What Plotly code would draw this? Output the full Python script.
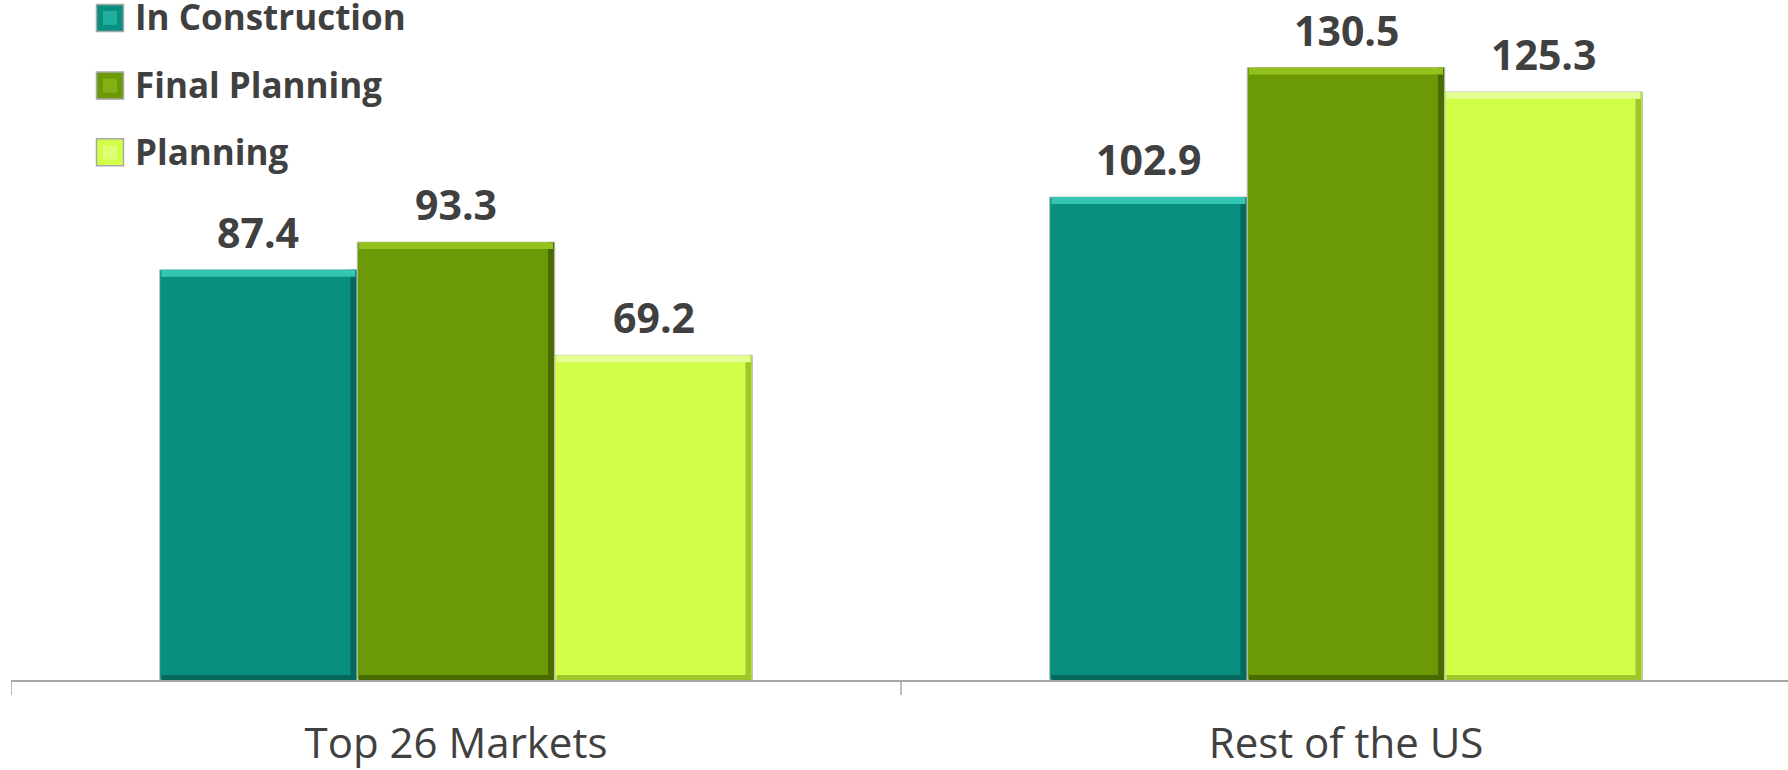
import plotly.graph_objects as go

# ---- data ----
categories = ["Top 26 Markets", "Rest of the US"]
series_names = ["In Construction", "Final Planning", "Planning"]
in_construction = [87.4, 102.9]
final_planning = [93.3, 130.5]
planning = [69.2, 125.3]
series_values = [in_construction, final_planning, planning]

# ---- styling ----
main_colors = ["#088F7F", "#6C9A06", "#D1FF47"]
light_colors = ["#33C6B2", "#93C21F", "#E6FF92"]
dark_colors = ["#05685C", "#4A6A04", "#9FC72C"]

W, H = 1788, 770
M_L, M_R, M_T, M_B = 11, 0, 0, 87
plot_w = W - M_L - M_R
plot_h = H - M_T - M_B
cat_px = 890                     # width of one category slot in pixels
y_max = 144.9
px_per_unit = plot_h / y_max

bar_w = 0.222
start = -0.333
top_band = 7 / px_per_unit
bottom_band = 5 / px_per_unit
side_strip = 6 / cat_px

x_idx = list(range(len(categories)))

fig = go.Figure()

for i, (name, vals) in enumerate(zip(series_names, series_values)):
    off = start + i * bar_w
    # main bar body
    fig.add_trace(go.Bar(
        x=x_idx, y=vals, name=name, offset=off, width=bar_w,
        marker=dict(color=main_colors[i], line=dict(color="#BEBEBE", width=1)),
        showlegend=False, hoverinfo="x+y",
    ))
    # darker bottom bevel
    fig.add_trace(go.Bar(
        x=x_idx, y=[bottom_band] * len(vals), offset=off + 0.002, width=bar_w - 0.004,
        marker=dict(color=dark_colors[i], line=dict(width=0)),
        showlegend=False, hoverinfo="skip",
    ))
    # darker right-hand bevel
    fig.add_trace(go.Bar(
        x=x_idx, y=vals, offset=off + bar_w - side_strip - 0.001, width=side_strip,
        marker=dict(color=dark_colors[i], line=dict(width=0)),
        showlegend=False, hoverinfo="skip",
    ))
    # lighter top bevel
    fig.add_trace(go.Bar(
        x=x_idx, y=[top_band] * len(vals), base=[v - top_band for v in vals],
        offset=off + 0.002, width=bar_w - 0.004,
        marker=dict(color=light_colors[i], line=dict(width=0)),
        showlegend=False, hoverinfo="skip",
    ))
    # value labels above bars
    for xi, v in zip(x_idx, vals):
        fig.add_annotation(
            x=xi + off + bar_w / 2, y=v, xref="x", yref="y",
            text=f"{v:.1f}", showarrow=False,
            xanchor="center", yanchor="bottom", yshift=8,
            font=dict(family="Open Sans", size=41, color="#404040", weight="bold"),
        )


def px_to_paper_x(px):
    return (px - M_L) / plot_w


def px_to_paper_y(py):
    return 1 - (py - M_T) / plot_h


# custom legend with large square swatches
legend_rows = [18, 86, 153]
for i, name in enumerate(series_names):
    cy = legend_rows[i]
    fig.add_shape(
        type="rect", xref="paper", yref="paper",
        xsizemode="pixel", ysizemode="pixel",
        xanchor=px_to_paper_x(110), yanchor=px_to_paper_y(cy),
        x0=-13.5, x1=13.5, y0=-13.5, y1=13.5,
        fillcolor=main_colors[i], line=dict(color="#A8A8A8", width=1.5),
    )
    fig.add_shape(
        type="rect", xref="paper", yref="paper",
        xsizemode="pixel", ysizemode="pixel",
        xanchor=px_to_paper_x(110), yanchor=px_to_paper_y(cy),
        x0=-7, x1=7, y0=-7, y1=7,
        fillcolor=light_colors[i], line=dict(width=0), opacity=0.6,
    )
    fig.add_annotation(
        x=px_to_paper_x(133), y=px_to_paper_y(cy - 1), xref="paper", yref="paper",
        text=name, showarrow=False, xanchor="left", yanchor="middle",
        font=dict(family="Open Sans", size=35, color="#404040", weight="bold"),
    )

fig.update_layout(
    width=W, height=H,
    margin=dict(l=M_L, r=M_R, t=M_T, b=M_B, pad=0),
    barmode="overlay",
    plot_bgcolor="white", paper_bgcolor="white",
    showlegend=False,
    xaxis=dict(
        type="linear",
        range=[-0.5, -0.5 + plot_w / cat_px],
        tickmode="array", tickvals=x_idx, ticktext=categories,
        ticks="", showgrid=False, zeroline=False,
        showline=True, linecolor="#A6A6A6", linewidth=2,
        tickfont=dict(family="Open Sans", size=42, color="#404040"),
        ticklabelstandoff=26,
    ),
    yaxis=dict(range=[0, y_max], visible=False, showgrid=False, zeroline=False),
)

# category boundary ticks below the axis line
boundaries = [b - 0.5 for b in range(len(categories) + 1)]
for b in boundaries:
    fig.add_shape(
        type="line", xref="x", yref="paper",
        x0=b, x1=b, y0=0, y1=-15 / plot_h,
        line=dict(color="#A6A6A6", width=1.5),
    )

fig.write_html("out.html")
